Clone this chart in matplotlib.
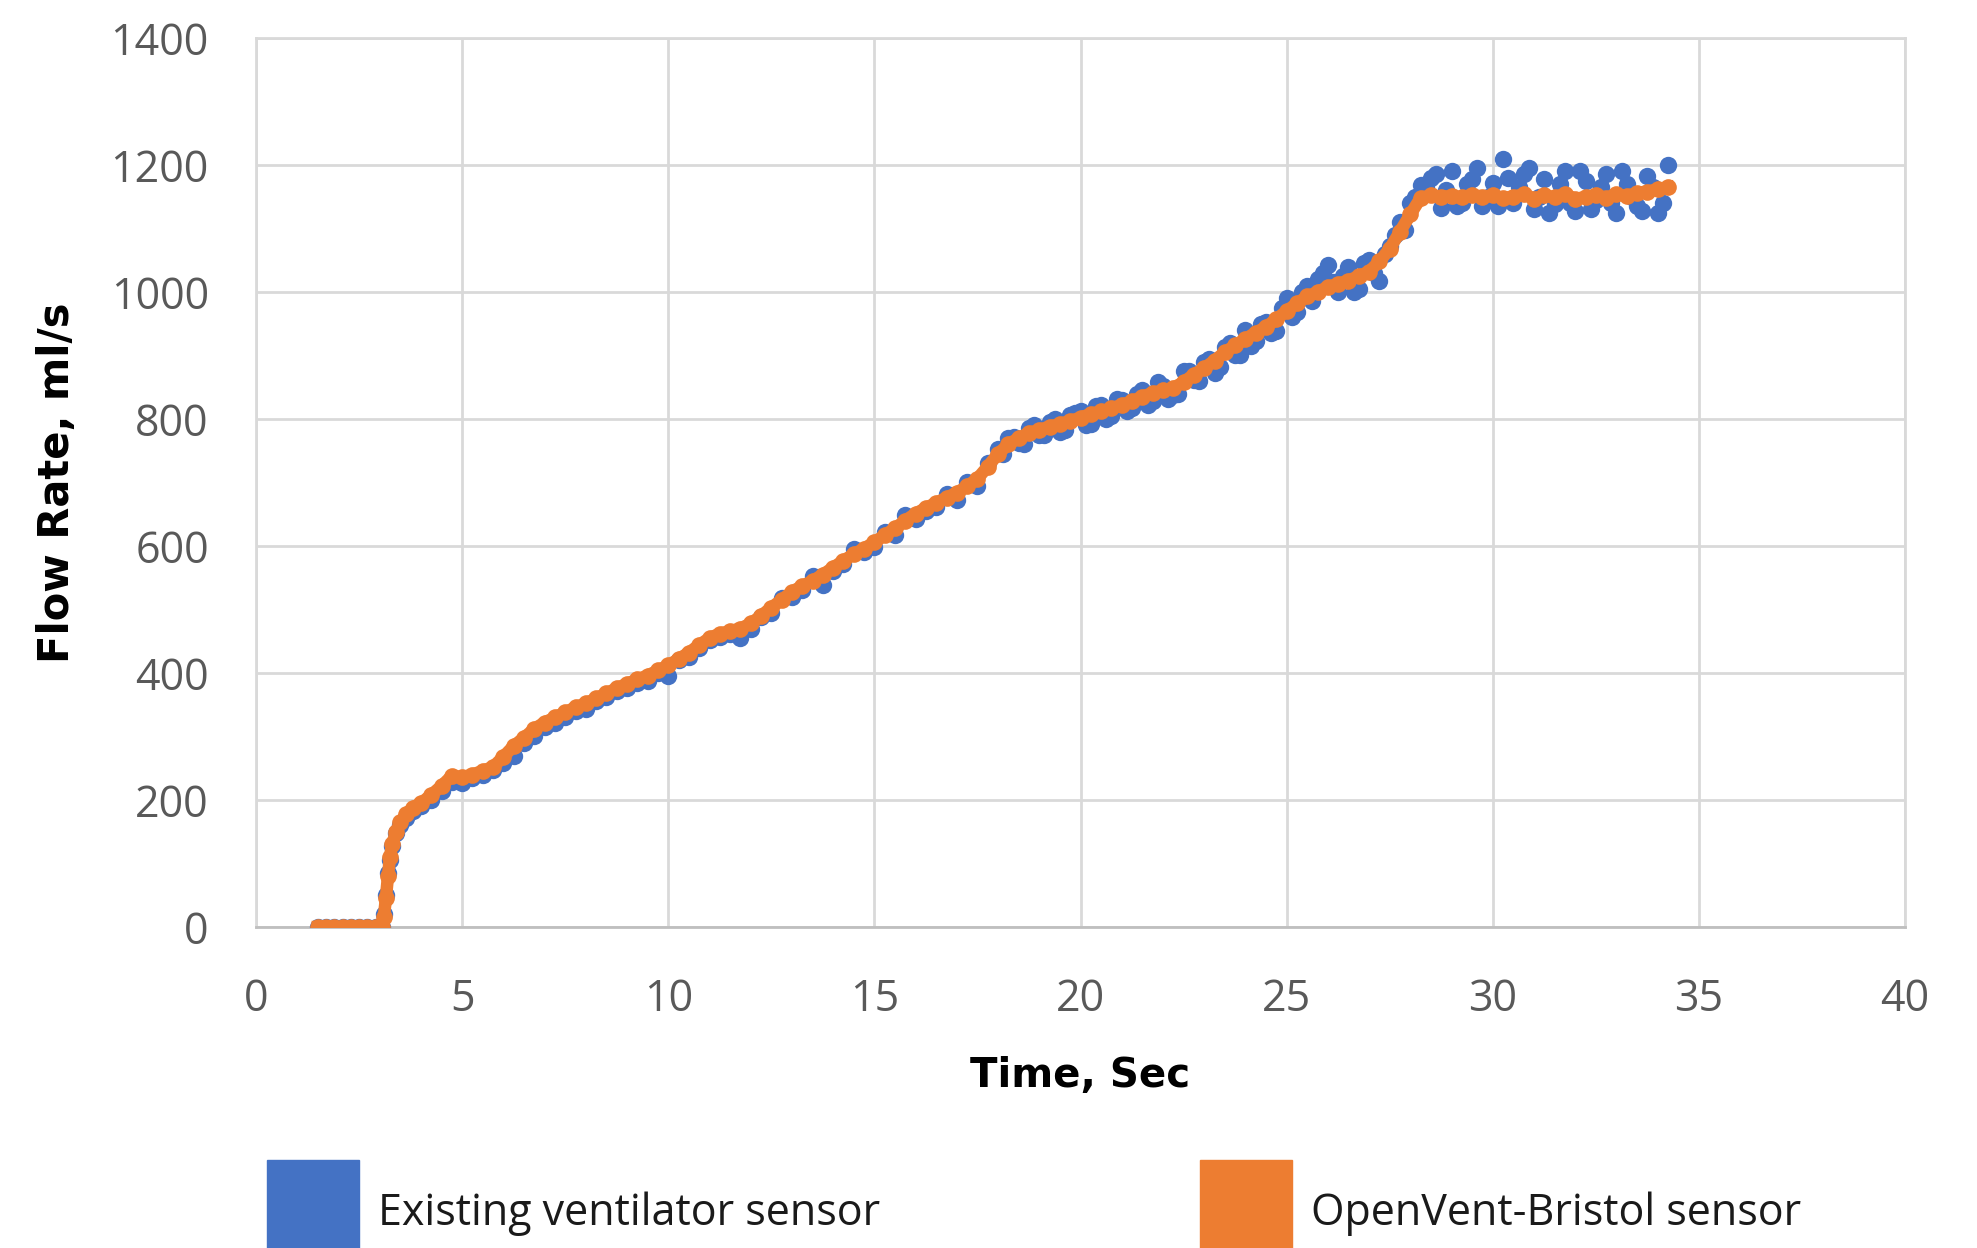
import numpy as np
import matplotlib.pyplot as plt
from matplotlib.patches import Rectangle

# sample times (s)
time_s = [1.5, 1.7, 1.9, 2.1, 2.3, 2.5, 2.7, 2.9, 3.05,
          3.1, 3.15, 3.2, 3.25, 3.3, 3.4, 3.5, 3.65, 3.8, 4.0,
          4.25, 4.5, 4.75, 5.0, 5.25, 5.5, 5.75, 6.0, 6.25, 6.5, 6.75, 7.0,
          7.25, 7.5, 7.75, 8.0, 8.25, 8.5, 8.75, 9.0, 9.25, 9.5, 9.75, 10.0,
          10.25, 10.5, 10.75, 11.0, 11.25, 11.5, 11.75, 12.0, 12.25, 12.5, 12.75, 13.0,
          13.25, 13.5, 13.75, 14.0, 14.25, 14.5, 14.75, 15.0, 15.25, 15.5, 15.75, 16.0,
          16.25, 16.5, 16.75, 17.0, 17.25, 17.5, 17.75, 18.0, 18.25, 18.5, 18.75, 19.0,
          19.25, 19.5, 19.75, 20.0, 20.25, 20.5, 20.75, 21.0, 21.25, 21.5, 21.75, 22.0,
          22.25, 22.5, 22.75, 23.0, 23.25, 23.5, 23.75, 24.0, 24.25, 24.5, 24.75, 25.0,
          25.25, 25.5, 25.75, 26.0, 26.25, 26.5, 26.75, 27.0, 27.25, 27.5, 27.75, 28.0,
          28.25, 28.5, 28.75, 29.0, 29.25, 29.5, 29.75, 30.0, 30.25, 30.5, 30.75, 31.0,
          31.25, 31.5, 31.75, 32.0, 32.25, 32.5, 32.75, 33.0, 33.25, 33.5, 33.75, 34.0,
          34.25]

# existing ventilator sensor (ml/s)
existing_flow = [0, 0, 0, 0, 0, 0, 0, 0, 0,
                 20, 50, 85, 105, 128, 148, 160, 172, 182, 190,
                 200, 214, 228, 226, 234, 240, 247, 258, 270, 290, 300, 315,
                 322, 330, 340, 344, 356, 362, 372, 376, 384, 388, 400, 396,
                 420, 425, 440, 452, 457, 462, 455, 470, 488, 495, 518, 520,
                 530, 552, 538, 560, 572, 596, 590, 598, 622, 618, 648, 642,
                 655, 662, 682, 672, 700, 695, 730, 752, 770, 762, 785, 774,
                 795, 780, 806, 812, 792, 822, 805, 830, 818, 845, 828, 852,
                 838, 876, 862, 890, 872, 914, 900, 940, 922, 952, 938, 990,
                 968, 1010, 1020, 1042, 1000, 1040, 1005, 1050, 1018, 1072, 1110, 1140,
                 1168, 1180, 1132, 1190, 1140, 1178, 1135, 1172, 1210, 1140, 1185, 1130,
                 1178, 1138, 1190, 1128, 1175, 1145, 1185, 1125, 1170, 1135, 1182, 1125,
                 1200]

# extra readings of the existing sensor between the samples above
existing_time_extra = [18.125, 18.375, 18.625, 18.875, 19.125, 19.375, 19.625, 19.875,
                       20.125, 20.375, 20.625, 20.875, 21.125, 21.375, 21.625, 21.875,
                       22.125, 22.375, 22.625, 22.875, 23.125, 23.375, 23.625, 23.875,
                       24.125, 24.375, 24.625, 24.875, 25.125, 25.375, 25.625, 25.875,
                       26.125, 26.375, 26.625, 26.875, 27.125, 27.375, 27.625, 27.875,
                       28.125, 28.375, 28.625, 28.875, 29.125, 29.375, 29.625, 29.875,
                       30.125, 30.375, 30.625, 30.875, 31.125, 31.375, 31.625, 31.875,
                       32.125, 32.375, 32.625, 32.875, 33.125, 33.375, 33.625, 33.875,
                       34.125]
existing_flow_extra = [745, 772, 760, 790, 775, 800, 782, 810,
                       790, 820, 800, 832, 812, 840, 822, 858,
                       832, 840, 875, 860, 895, 882, 920, 900,
                       915, 950, 935, 975, 960, 1000, 985, 1030,
                       1015, 1025, 1000, 1045, 1030, 1060, 1090, 1098,
                       1150, 1165, 1185, 1160, 1135, 1170, 1195, 1150,
                       1135, 1180, 1165, 1195, 1150, 1125, 1170, 1140,
                       1190, 1130, 1165, 1140, 1190, 1150, 1128, 1165,
                       1140]

# OpenVent-Bristol sensor (ml/s)
openvent_flow = [0, 0, 0, 0, 0, 0, 0, 0, 0,
                 15, 45, 80, 110, 130, 150, 165, 178, 188, 195,
                 208, 222, 238, 236, 240, 246, 252, 268, 285, 298, 312, 322,
                 330, 338, 346, 352, 360, 368, 376, 383, 390, 396, 404, 412,
                 422, 432, 444, 455, 462, 466, 470, 478, 490, 503, 515, 528,
                 537, 545, 555, 566, 577, 587, 596, 606, 617, 628, 640, 651,
                 660, 668, 676, 684, 694, 706, 725, 745, 760, 770, 778, 783,
                 788, 792, 797, 802, 808, 812, 817, 822, 828, 835, 841, 845,
                 849, 858, 870, 880, 892, 905, 916, 926, 936, 945, 957, 970,
                 982, 993, 1000, 1008, 1013, 1018, 1025, 1032, 1048, 1068, 1095, 1122,
                 1148, 1152, 1150, 1151, 1149, 1153, 1150, 1152, 1148, 1150, 1154, 1147,
                 1152, 1149, 1155, 1146, 1150, 1153, 1148, 1154, 1151, 1156, 1158, 1162,
                 1165]

x_ticks = [0, 5, 10, 15, 20, 25, 30, 35, 40]
y_ticks = [0, 200, 400, 600, 800, 1000, 1200, 1400]

blue = '#4472C4'
orange = '#ED7D31'
grid_col = '#d9d9d9'
tick_col = '#595959'

fig = plt.figure(figsize=(19.77, 12.48), dpi=100)
ax = fig.add_axes([0.1295, 0.2572, 0.8341, 0.7124])

ax.plot(time_s, existing_flow, 'o', color=blue, ms=12.5, mec='none', zorder=3)
ax.plot(existing_time_extra, existing_flow_extra, 'o', color=blue, ms=12.5, mec='none', zorder=3)
ax.plot(time_s, openvent_flow, '-o', color=orange, lw=9, ms=12, mec='none', zorder=4)

ax.set_xlim(0, 40)
ax.set_ylim(0, 1400)
ax.set_xticks(x_ticks)
ax.set_yticks(y_ticks)
ax.grid(True, color=grid_col, lw=2)
ax.set_axisbelow(True)
for s in ax.spines.values():
    s.set_color(grid_col)
    s.set_linewidth(2)
ax.spines['bottom'].set_color('#bfbfbf')

ax.tick_params(axis='both', length=0, labelsize=31, labelcolor=tick_col)
ax.tick_params(axis='y', pad=34)
ax.tick_params(axis='x', pad=36)
for lbl in ax.get_xticklabels() + ax.get_yticklabels():
    lbl.set_family('Open Sans')

ax.set_xlabel('Time, Sec', fontsize=29, fontweight='bold', va='center')
ax.set_ylabel('Flow Rate, ml/s', fontsize=30, fontweight='bold', va='center')
ax.xaxis.set_label_coords(0.5, -0.1676)
ax.yaxis.set_label_coords(-0.1207, 0.5)

# legend drawn as swatches at the bottom
fig.patches.append(Rectangle((0.1351, 0.0), 0.0465, 0.0705, transform=fig.transFigure,
                             color=blue, zorder=5))
fig.patches.append(Rectangle((0.607, 0.0), 0.0465, 0.0705, transform=fig.transFigure,
                             color=orange, zorder=5))
fig.text(0.1912, 0.0272, 'Existing ventilator sensor', fontsize=31, family='Open Sans',
         va='center', ha='left', color='#1a1a1a')
fig.text(0.6631, 0.0272, 'OpenVent-Bristol sensor', fontsize=31, family='Open Sans',
         va='center', ha='left', color='#1a1a1a')

fig.savefig('out.png', dpi=100)
